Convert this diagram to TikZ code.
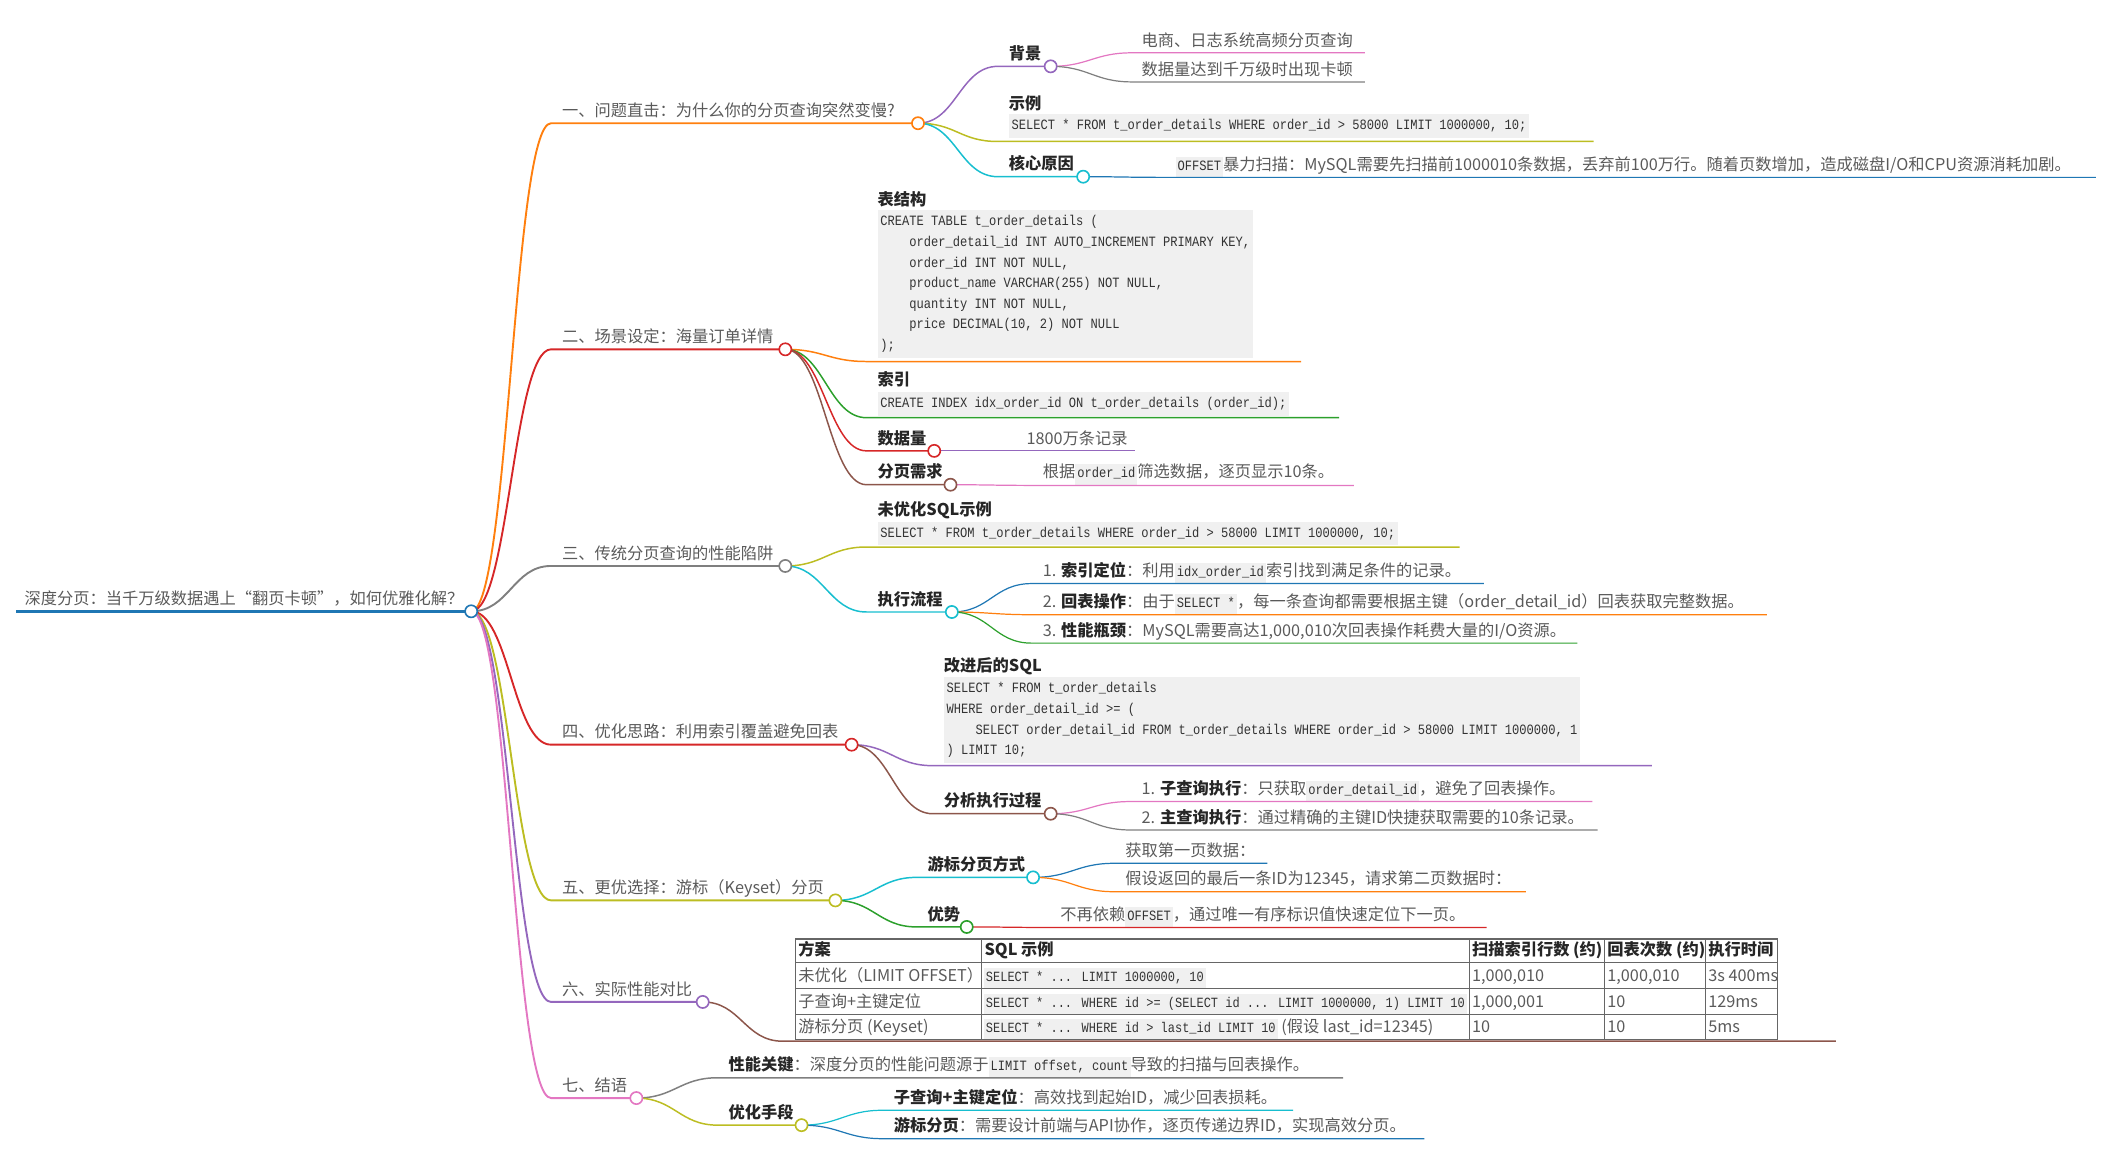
\documentclass[tikz,border=0pt]{standalone}
\usepackage{fontspec}
\setmainfont{Noto Sans CJK SC}
\newfontfamily\codefont[FakeStretch=0.85]{Liberation Mono}

\definecolor{cBlue}{HTML}{1F77B4}
\definecolor{cOrange}{HTML}{FF7F0E}
\definecolor{cGreen}{HTML}{2CA02C}
\definecolor{cRed}{HTML}{D62728}
\definecolor{cPurple}{HTML}{9467BD}
\definecolor{cBrown}{HTML}{8C564B}
\definecolor{cPink}{HTML}{E377C2}
\definecolor{cGray}{HTML}{7F7F7F}
\definecolor{cOlive}{HTML}{BCBD22}
\definecolor{cCyan}{HTML}{17BECF}
\definecolor{txtgray}{HTML}{5A5A5A}
\definecolor{codebg}{HTML}{F0F0F0}

\setlength{\fboxsep}{1.5pt}
\newcommand{\icode}[1]{\colorbox{codebg}{\rule[-3.5pt]{0pt}{12pt}\fontsize{10.5}{11}\codefont\color{black!80}#1}}
\newcommand{\tcode}[1]{\colorbox{codebg}{\rule[-3.5pt]{0pt}{12pt}\fontsize{10.4}{11}\codefont\color{black!80}#1}}
\newcommand{\hl}[1]{{\bfseries\color{black!85}#1}}
\newcommand{\ind}{\hphantom{0000}}

\tikzset{
  lbl/.style={anchor=base west, inner sep=0pt, text=txtgray, font=\fontsize{12}{14}\selectfont},
  hd/.style={lbl, text=black!85, font=\fontsize{12}{14}\selectfont\bfseries},
  codebox/.style={anchor=north west, fill=codebg, inner xsep=2pt, inner ysep=4pt, align=left,
    text=black!80, font=\fontsize{10.5}{15.2}\selectfont\codefont},
  lnk/.style={to path={.. controls +(28,0) and +(-28,0) .. (\tikztotarget)}},
  w0/.style={line width=1.8pt}, w1/.style={line width=1.4pt},
  w2/.style={line width=1.1pt}, w3/.style={line width=0.9pt},
  dot/.style={circle, draw=#1, fill=white, line width=1.2pt, minimum size=9pt, inner sep=0pt},
  tbl/.style={draw=black!60, line width=0.8pt},
}

\begin{document}
\begin{tikzpicture}[x=1pt, y=-1pt]
  \useasboundingbox (0,0) rectangle (1568,857);

  % root
  \coordinate (s0) at (12,451.5);
  \coordinate (c0) at (348,451.5);
  \node[lbl] (t0) at (18,446.5) {深度分页：当千万级数据遇上“翻页卡顿”，如何优雅化解？};
  \draw[w0, cBlue] (s0) -- (c0);

  % first level
  \coordinate (s1) at (407,91);   \coordinate (c1) at (678,91);
  \coordinate (s2) at (407,258);  \coordinate (c2) at (580,258);
  \coordinate (s3) at (407,418);  \coordinate (c3) at (580,418);
  \coordinate (s4) at (407,550);  \coordinate (c4) at (629,550);
  \coordinate (s5) at (407,665);  \coordinate (c5) at (617,665);
  \coordinate (s6) at (407,740);  \coordinate (c6) at (519,740);
  \coordinate (s7) at (407,811);  \coordinate (c7) at (470,811);
  \node[lbl] (t1) at (415,86) {一、问题直击：为什么你的分页查询突然变慢?};
  \node[lbl] (t2) at (415,253) {二、场景设定：海量订单详情};
  \node[lbl] (t3) at (415,413) {三、传统分页查询的性能陷阱};
  \node[lbl] (t4) at (415,545) {四、优化思路：利用索引覆盖避免回表};
  \node[lbl] (t5) at (415,660) {五、更优选择：游标（Keyset）分页};
  \node[lbl] (t6) at (415,735) {六、实际性能对比};
  \node[lbl] (t7) at (415,806) {七、结语};
  \draw[w1, cOrange] (c0) to[lnk] (s1) -- (c1);
  \draw[w1, cRed] (c0) to[lnk] (s2) -- (c2);
  \draw[w1, cGray] (c0) to[lnk] (s3) -- (c3);
  \draw[w1, cRed] (c0) to[lnk] (s4) -- (c4);
  \draw[w1, cOlive] (c0) to[lnk] (s5) -- (c5);
  \draw[w1, cPurple] (c0) to[lnk] (s6) -- (c6);
  \draw[w1, cPink] (c0) to[lnk] (s7) -- (c7);

  % 一
  \coordinate (s11) at (737,49);    \coordinate (c11) at (776,49);
  \coordinate (s12) at (737,104.5);
  \coordinate (s13) at (737,130.5); \coordinate (c13) at (800,130.5);
  \node[hd] (t11) at (745,44) {背景};
  \node[hd] (t12) at (745,81) {示例};
  \node[codebox] (k12) at (745,84) {SELECT * FROM t\_order\_details WHERE order\_id > 58000 LIMIT 1000000, 10;};
  \node[hd] (t13) at (745,125.5) {核心原因};
  \draw[w2, cPurple] (c1) to[lnk] (s11) -- (c11);
  \draw[w2, cOlive] (c1) to[lnk] (s12) -- ++(440,0);
  \draw[w2, cCyan] (c1) to[lnk] (s13) -- (c13);
  \coordinate (s111) at (836,39);
  \coordinate (s112) at (836,60.5);
  \coordinate (s131) at (860,131);
  \node[lbl] (t111) at (843,34) {电商、日志系统高频分页查询};
  \node[lbl] (t112) at (843,55.5) {数据量达到千万级时出现卡顿};
  \node[lbl] (t131) at (868,126) {\icode{OFFSET}暴力扫描：MySQL需要先扫描前1000010条数据，丢弃前100万行。随着页数增加，造成磁盘I/O和CPU资源消耗加剧。};
  \draw[w3, cPink] (c11) to[lnk] (s111) -- ++(172,0);
  \draw[w3, cGray] (c11) to[lnk] (s112) -- ++(172,0);
  \draw[w3, cBlue] (c13) to[lnk] (s131) -- ++(688,0);

  % 二
  \coordinate (s21) at (640,267);
  \coordinate (s22) at (640,308.5);
  \coordinate (s23) at (640,333);  \coordinate (c23) at (690,333);
  \coordinate (s24) at (640,358);  \coordinate (c24) at (702,358);
  \node[hd] (t21) at (648,152) {表结构};
  \node[codebox] (k21) at (648,155) {CREATE TABLE t\_order\_details (\\
    \ind order\_detail\_id INT AUTO\_INCREMENT PRIMARY KEY,\\
    \ind order\_id INT NOT NULL,\\
    \ind product\_name VARCHAR(255) NOT NULL,\\
    \ind quantity INT NOT NULL,\\
    \ind price DECIMAL(10, 2) NOT NULL\\
    );};
  \node[hd] (t22) at (648,285) {索引};
  \node[codebox] (k22) at (648,289) {CREATE INDEX idx\_order\_id ON t\_order\_details (order\_id);};
  \node[hd] (t23) at (648,328) {数据量};
  \node[hd] (t24) at (648,353) {分页需求};
  \draw[w2, cOrange] (c2) to[lnk] (s21) -- ++(321,0);
  \draw[w2, cGreen] (c2) to[lnk] (s22) -- ++(349,0);
  \draw[w2, cRed] (c2) to[lnk] (s23) -- (c23);
  \draw[w2, cBrown] (c2) to[lnk] (s24) -- (c24);
  \coordinate (s231) at (750,333);
  \coordinate (s241) at (762,358.5);
  \node[lbl] (t231) at (758,328) {1800万条记录};
  \node[lbl] (t241) at (770,353) {根据\icode{order\_id}筛选数据，逐页显示10条。};
  \draw[w3, cPurple] (c23) to[lnk] (s231) -- ++(88,0);
  \draw[w3, cPink] (c24) to[lnk] (s241) -- ++(238,0);

  % 三
  \coordinate (s31) at (640,404);
  \coordinate (s32) at (640,452);  \coordinate (c32) at (703,452);
  \node[hd] (t31) at (648,381) {未优化SQL示例};
  \node[codebox] (k31) at (648,385) {SELECT * FROM t\_order\_details WHERE order\_id > 58000 LIMIT 1000000, 10;};
  \node[hd] (t32) at (648,447) {执行流程};
  \draw[w2, cOlive] (c3) to[lnk] (s31) -- ++(438,0);
  \draw[w2, cCyan] (c3) to[lnk] (s32) -- (c32);
  \coordinate (s321) at (762,431);
  \coordinate (s322) at (762,454);
  \coordinate (s323) at (762,475);
  \node[lbl] (t321) at (770,426) {1. \hl{索引定位}：利用\icode{idx\_order\_id}索引找到满足条件的记录。};
  \node[lbl] (t322) at (770,449) {2. \hl{回表操作}：由于\icode{SELECT *}，每一条查询都需要根据主键（order\_detail\_id）回表获取完整数据。};
  \node[lbl] (t323) at (770,470) {3. \hl{性能瓶颈}：MySQL需要高达1,000,010次回表操作耗费大量的I/O资源。};
  \draw[w3, cBlue] (c32) to[lnk] (s321) -- ++(334,0);
  \draw[w3, cOrange] (c32) to[lnk] (s322) -- ++(543,0);
  \draw[w3, cGreen] (c32) to[lnk] (s323) -- ++(403,0);

  % 四
  \coordinate (s41) at (689,565.5);
  \coordinate (s42) at (689,601);  \coordinate (c42) at (776,601);
  \node[hd] (t41) at (697,496) {改进后的SQL};
  \node[codebox] (k41) at (697,500) {SELECT * FROM t\_order\_details\\
    WHERE order\_detail\_id >= (\\
    \ind SELECT order\_detail\_id FROM t\_order\_details WHERE order\_id > 58000 LIMIT 1000000, 1\\
    ) LIMIT 10;};
  \node[hd] (t42) at (697,596) {分析执行过程};
  \draw[w2, cPurple] (c4) to[lnk] (s41) -- ++(531,0);
  \draw[w2, cBrown] (c4) to[lnk] (s42) -- (c42);
  \coordinate (s421) at (835,592);
  \coordinate (s422) at (835,613);
  \node[lbl] (t421) at (843,587) {1. \hl{子查询执行}：只获取\icode{order\_detail\_id}，避免了回表操作。};
  \node[lbl] (t422) at (843,608) {2. \hl{主查询执行}：通过精确的主键ID快捷获取需要的10条记录。};
  \draw[w3, cPink] (c42) to[lnk] (s421) -- ++(341,0);
  \draw[w3, cGray] (c42) to[lnk] (s422) -- ++(345,0);

  % 五
  \coordinate (s51) at (677,648);    \coordinate (c51) at (763,648);
  \coordinate (s52) at (677,684.6);  \coordinate (c52) at (714,684.6);
  \node[hd] (t51) at (685,643) {游标分页方式};
  \node[hd] (t52) at (685,679.6) {优势};
  \draw[w2, cCyan] (c5) to[lnk] (s51) -- (c51);
  \draw[w2, cGreen] (c5) to[lnk] (s52) -- (c52);
  \coordinate (s511) at (823,637.6);
  \coordinate (s512) at (823,658.6);
  \coordinate (s521) at (775,685);
  \node[lbl] (t511) at (831,632.6) {获取第一页数据：};
  \node[lbl] (t512) at (831,653.6) {假设返回的最后一条ID为12345，请求第二页数据时：};
  \node[lbl] (t521) at (783,680) {不再依赖\icode{OFFSET}，通过唯一有序标识值快速定位下一页。};
  \draw[w3, cBlue] (c51) to[lnk] (s511) -- ++(113,0);
  \draw[w3, cOrange] (c51) to[lnk] (s512) -- ++(304,0);
  \draw[w3, cRed] (c52) to[lnk] (s521) -- ++(323,0);

  % 六
  \coordinate (s61) at (578,769);
  \draw[w2, cBrown] (c6) to[lnk] (s61) -- ++(778,0);
  \draw[tbl] (587.6,693.5) rectangle (1313,767.5);
  \foreach \y in {711,730,749}
    \draw[tbl] (587.6,\y) -- (1313,\y);
  \foreach \x in {725,1085,1185,1259.6}
    \draw[tbl] (\x,693.5) -- (\x,767.5);
  \node[hd] (h1) at (589.5,706) {方案};
  \node[hd] (h2) at (727,706) {SQL 示例};
  \node[hd] (h3) at (1087,706) {扫描索引行数 (约)};
  \node[hd] (h4) at (1187,706) {回表次数 (约)};
  \node[hd] (h5) at (1261.5,706) {执行时间};
  \node[lbl] (r1a) at (589.5,725) {未优化（LIMIT OFFSET）};
  \node[lbl] (r1b) at (726.5,725) {\tcode{SELECT * ... LIMIT 1000000, 10}};
  \node[lbl] (r1c) at (1087,725) {1,000,010};
  \node[lbl] (r1d) at (1187,725) {1,000,010};
  \node[lbl] (r1e) at (1261.5,725) {3s 400ms};
  \node[lbl] (r2a) at (589.5,744) {子查询+主键定位};
  \node[lbl] (r2b) at (726.5,744) {\tcode{SELECT * ... WHERE id >= (SELECT id ... LIMIT 1000000, 1) LIMIT 10}};
  \node[lbl] (r2c) at (1087,744) {1,000,001};
  \node[lbl] (r2d) at (1187,744) {10};
  \node[lbl] (r2e) at (1261.5,744) {129ms};
  \node[lbl] (r3a) at (589.5,762.5) {游标分页 (Keyset)};
  \node[lbl] (r3b) at (726.5,762.5) {\tcode{SELECT * ... WHERE id > last\_id LIMIT 10} (假设 last\_id=12345)};
  \node[lbl] (r3c) at (1087,762.5) {10};
  \node[lbl] (r3d) at (1187,762.5) {10};
  \node[lbl] (r3e) at (1261.5,762.5) {5ms};

  % 七
  \coordinate (s71) at (530,796);
  \coordinate (s72) at (530,831);  \coordinate (c72) at (592,831);
  \node[lbl] (t71) at (538,791) {\hl{性能关键}：深度分页的性能问题源于\icode{LIMIT offset, count}导致的扫描与回表操作。};
  \node[hd] (t72) at (538,826) {优化手段};
  \draw[w2, cGray] (c7) to[lnk] (s71) -- ++(462,0);
  \draw[w2, cOlive] (c7) to[lnk] (s72) -- (c72);
  \coordinate (s721) at (652,820);
  \coordinate (s722) at (652,841);
  \node[lbl] (t721) at (660,815) {\hl{子查询+主键定位}：高效找到起始ID，减少回表损耗。};
  \node[lbl] (t722) at (660,836) {\hl{游标分页}：需要设计前端与API协作，逐页传递边界ID，实现高效分页。};
  \draw[w3, cCyan] (c72) to[lnk] (s721) -- ++(303,0);
  \draw[w3, cBlue] (c72) to[lnk] (s722) -- ++(400,0);

  % circles on top
  \foreach \n/\c in {c0/cBlue, c1/cOrange, c2/cRed, c3/cGray, c4/cRed, c5/cOlive,
      c6/cPurple, c7/cPink, c11/cPurple, c13/cCyan, c23/cRed, c24/cBrown,
      c32/cCyan, c42/cBrown, c51/cCyan, c52/cGreen, c72/cOlive}
    \node[dot=\c] (d\n) at (\n) {};
\end{tikzpicture}
\end{document}
